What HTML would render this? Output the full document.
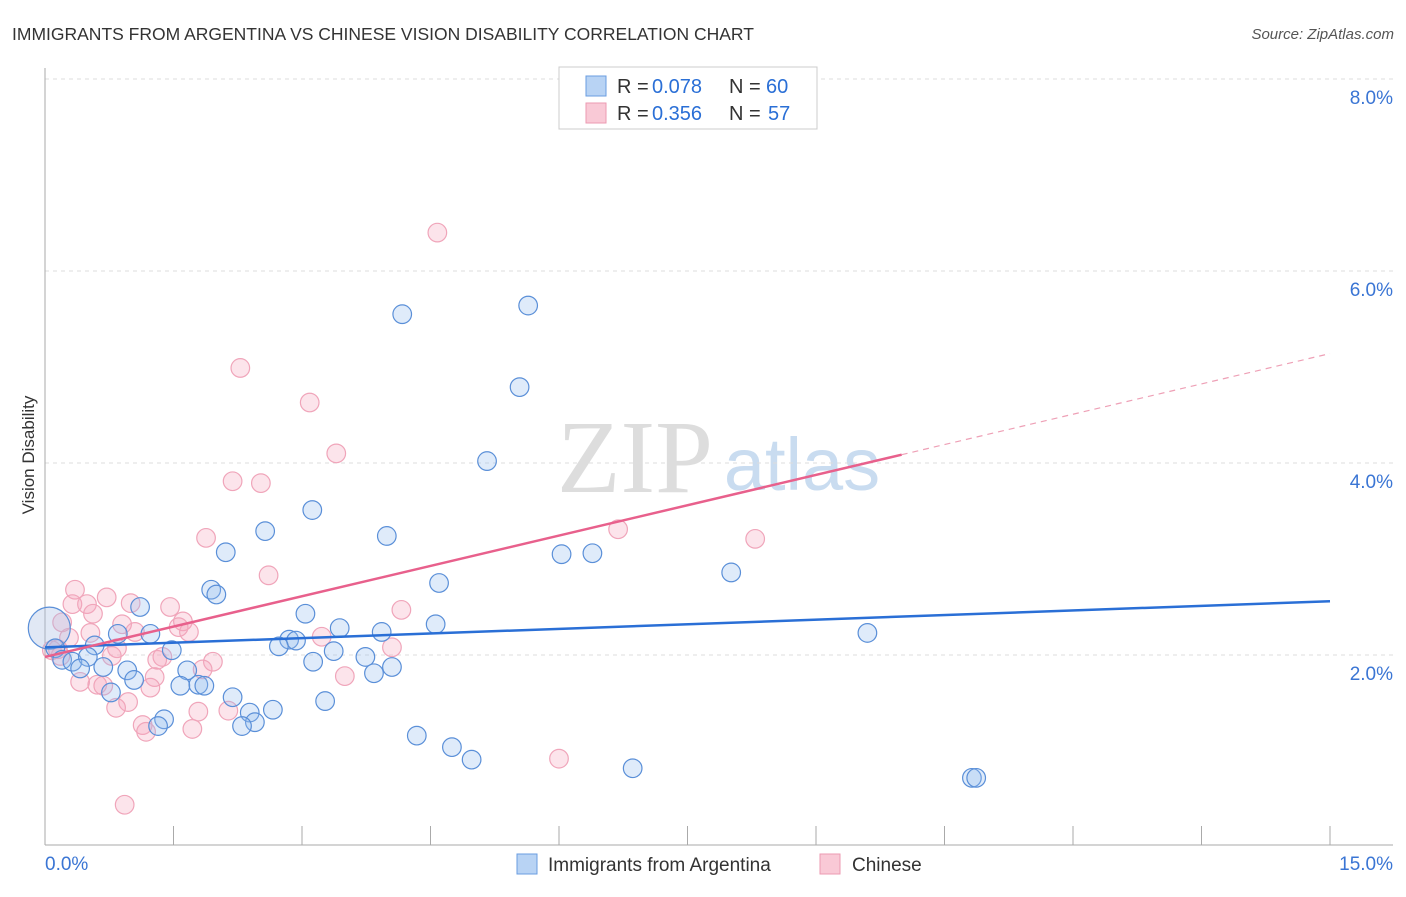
<!DOCTYPE html>
<html><head><meta charset="utf-8"><style>
body{margin:0;background:#fff;font-family:"Liberation Sans",sans-serif;}
</style></head><body>
<svg id="c" width="1406" height="892" xmlns="http://www.w3.org/2000/svg">
<text x="12" y="40" font-size="17.5" fill="#333">IMMIGRANTS FROM ARGENTINA VS CHINESE VISION DISABILITY CORRELATION CHART</text>
<text x="1394" y="39" font-size="15" fill="#555" font-style="italic" text-anchor="end">Source: ZipAtlas.com</text>
<g>
<text x="635" y="492" font-size="104" fill="#ddd" font-family="Liberation Serif,serif" text-anchor="middle">ZIP</text>
<text x="802" y="490" font-size="74" fill="#c9dcf0" text-anchor="middle">atlas</text>
</g>
<g id="grid"></g><g id="axes"></g><g id="pts"></g><g id="trend"></g>
<text transform="translate(34,455) rotate(-90)" font-size="17" fill="#333" text-anchor="middle">Vision Disability</text>
<g>
<rect x="559" y="67" width="258" height="62" fill="#fff" stroke="#ccc"/>
<rect x="586" y="76" width="20" height="20" fill="#b8d3f4" stroke="#6a9de0"/>
<rect x="586" y="103" width="20" height="20" fill="#f9c9d6" stroke="#ec9ab2"/>
<text x="617" y="93" font-size="20" fill="#333">R =</text><text x="652" y="93" font-size="20" fill="#2a6fd6">0.078</text>
<text x="729" y="93" font-size="20" fill="#333">N =</text><text x="766" y="93" font-size="20" fill="#2a6fd6">60</text>
<text x="617" y="120" font-size="20" fill="#333">R =</text><text x="652" y="120" font-size="20" fill="#2a6fd6">0.356</text>
<text x="729" y="120" font-size="20" fill="#333">N =</text><text x="768" y="120" font-size="20" fill="#2a6fd6">57</text>
</g>
<g>
<rect x="517" y="854" width="20" height="20" fill="#b8d3f4" stroke="#6a9de0"/>
<text x="548" y="871" font-size="19" fill="#333">Immigrants from Argentina</text>
<rect x="820" y="854" width="20" height="20" fill="#f9c9d6" stroke="#ec9ab2"/>
<text x="852" y="871" font-size="19" fill="#333">Chinese</text>
</g>
</svg>
<script>
const yTicks=[2,4,6,8];
const xTickLabels=["0.0%","15.0%"];
const blueX=[4.17,5.64,5.54,5.16,3.12,2.57,3.99,2.11,6.03,6.39,8.01,4.60,1.94,2.00,1.11,3.04,4.56,3.44,3.93,1.23,0.85,9.60,2.85,2.93,2.73,0.58,1.48,3.37,3.74,0.05,0.12,0.20,0.32,0.50,0.41,0.68,3.13,4.05,3.84,0.96,1.66,1.04,0.77,1.58,1.79,1.86,2.19,3.27,2.66,2.39,1.39,2.45,2.30,1.32,4.34,4.75,4.98,6.86,10.82,10.87];
const blueY=[5.55,5.64,4.79,4.02,3.51,3.29,3.24,3.07,3.05,3.06,2.86,2.75,2.68,2.63,2.50,2.43,2.32,2.28,2.24,2.22,2.22,2.23,2.16,2.15,2.09,2.10,2.05,2.04,1.98,2.28,2.07,1.95,1.93,1.98,1.86,1.875,1.93,1.875,1.81,1.84,1.84,1.74,1.61,1.68,1.69,1.68,1.56,1.52,1.43,1.40,1.33,1.30,1.26,1.26,1.16,1.04,0.91,0.82,0.72,0.72];
const pinkX=[4.58,2.28,3.09,3.40,2.19,2.52,6.69,8.29,1.88,2.61,0.35,0.72,0.32,0.49,1.00,1.46,0.56,4.16,1.61,1.56,0.90,0.20,1.05,1.68,0.53,0.28,3.23,0.84,0.15,4.05,0.08,0.18,0.78,1.37,1.31,1.96,1.84,1.28,3.50,0.41,0.61,0.68,1.23,0.97,0.83,1.79,2.14,1.14,1.18,1.72,6.00,0.93];
const pinkY=[6.40,4.99,4.63,4.10,3.81,3.79,3.31,3.21,3.22,2.83,2.68,2.60,2.53,2.53,2.54,2.50,2.43,2.47,2.35,2.29,2.32,2.34,2.24,2.24,2.23,2.18,2.19,2.07,2.06,2.08,2.05,1.99,1.99,1.98,1.95,1.93,1.85,1.77,1.78,1.72,1.69,1.68,1.66,1.51,1.45,1.41,1.42,1.27,1.20,1.23,0.92,0.44];
const blueLine=[2.08,2.56];
const pinkLine=[1.98,5.14];
const NS="http://www.w3.org/2000/svg";
const X=v=>45+v/15*1285, Y=v=>847-v/2*192;
function mk(t,a,p){const e=document.createElementNS(NS,t);for(const k in a)e.setAttribute(k,a[k]);p.appendChild(e);return e;}
const grid=document.getElementById('grid'),axes=document.getElementById('axes'),pts=document.getElementById('pts'),tr=document.getElementById('trend');
yTicks.forEach(t=>{
 const l=mk('line',{x1:45,x2:1393,y1:Y(t),y2:Y(t),stroke:'#ddd','stroke-dasharray':'4,4'},grid);
 
 
 const tx=mk('text',{x:1393,y:Y(t)+25,'font-size':19,fill:'#3a75d4','text-anchor':'end'},grid);
 tx.textContent=t.toFixed(1)+'%';
 
 
});
const la=mk('line',{x1:45,x2:45,y1:68,y2:845,stroke:'#aaa'},axes);


const lb=mk('line',{x1:45,x2:1393,y1:845,y2:845,stroke:'#aaa'},axes);


for(let i=0;i<=10;i++){
 const tk=mk('line',{x1:X(i*1.5),x2:X(i*1.5),y1:826,y2:845,stroke:'#aaa'},axes);
 
 
}
const t0=mk('text',{x:45,y:870,'font-size':19,fill:'#3a75d4'},axes);t0.textContent=xTickLabels[0];


const t1=mk('text',{x:1393,y:870,'font-size':19,fill:'#3a75d4','text-anchor':'end'},axes);t1.textContent=xTickLabels[1];


pinkX.forEach((x,i)=>{
 const c=mk('circle',{cx:X(x),cy:Y(pinkY[i]),r:9.3,fill:'rgba(245,165,190,0.3)',stroke:'#f0a5ba','stroke-width':1.2},pts);
 
 
});
blueX.forEach((x,i)=>{
 const c=mk('circle',{cx:X(x),cy:Y(blueY[i]),r:i==29?21:9.3,fill:i==29?'rgba(170,190,225,0.35)':'rgba(150,190,240,0.3)',stroke:'#5a8fd8','stroke-width':1.2},pts);
 
 
});
const bl=mk('line',{x1:X(0),y1:Y(blueLine[0]),x2:X(15),y2:Y(blueLine[1]),stroke:'#2a6fd6','stroke-width':2.5},tr);


const pAt=x=>pinkLine[0]+(pinkLine[1]-pinkLine[0])*x/15;
const pl=mk('line',{x1:X(0),y1:Y(pAt(0)),x2:X(10),y2:Y(pAt(10)),stroke:'#e8608c','stroke-width':2.5},tr);


const pd=mk('line',{x1:X(10),y1:Y(pAt(10)),x2:X(15),y2:Y(pAt(15)),stroke:'#eea0b6','stroke-width':1.2,'stroke-dasharray':'6,5'},tr);


</script>
</body></html>
